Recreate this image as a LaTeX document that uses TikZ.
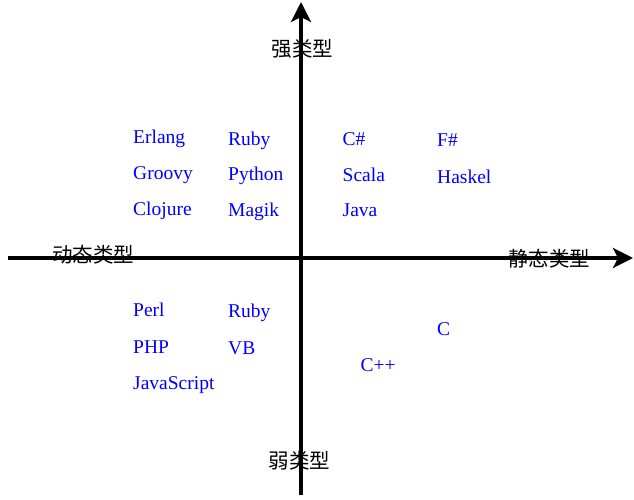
\documentclass[tikz,border=0pt]{standalone}
\usepackage{fontspec}
\setmainfont{Liberation Serif}
\newfontfamily\cjk{Noto Sans CJK SC}
\usetikzlibrary{arrows.meta}
\begin{document}
\begin{tikzpicture}[x=1pt,y=-1pt,
  lang/.style={anchor=base west,inner sep=0pt,text=blue,font=\fontsize{19.5}{23}\selectfont},
  axislabel/.style={inner sep=0pt,text=black,font=\cjk\fontsize{20.5}{24}\selectfont},
  axisline/.style={line width=3.5pt,-{Stealth[length=20pt,width=20pt,inset=5pt]}}]
\useasboundingbox (0,0) rectangle (634,500);
% axes
\coordinate (xl) at (8,258);
\coordinate (xr) at (633,258);
\coordinate (yb) at (301,495);
\coordinate (yt) at (301,2);
\draw[axisline] (xl) -- (xr);
\draw[axisline] (yb) -- (yt);
% axis labels
\node[axislabel] (strong) at (302.5,49) {强类型};
\node[axislabel] (weak) at (299.5,461) {弱类型};
\node[axislabel] (dyn) at (93,255) {动态类型};
\node[axislabel] (stat) at (549,259) {静态类型};
% languages
\node[lang] (erlang) at (133,143) {Erlang};
\node[lang] (groovy) at (133,179) {Groovy};
\node[lang] (clojure) at (133,215) {Clojure};
\node[lang] (ruby1) at (228,145) {Ruby};
\node[lang] (python) at (228,180.5) {Python};
\node[lang] (magik) at (228,216.5) {Magik};
\node[lang] (csharp) at (342.5,145) {C\#};
\node[lang] (scala) at (342.5,181.5) {Scala};
\node[lang] (java) at (342.5,216.5) {Java};
\node[lang] (fsharp) at (437,146.5) {F\#};
\node[lang] (haskel) at (437,183) {Haskel};
\node[lang] (perl) at (133,316) {Perl};
\node[lang] (php) at (133,353) {PHP};
\node[lang] (js) at (133,389) {JavaScript};
\node[lang] (ruby2) at (228,317) {Ruby};
\node[lang] (vb) at (228,354) {VB};
\node[lang] (cpp) at (360.5,371.5) {C++};
\node[lang] (c) at (437,335) {C};
\end{tikzpicture}
\end{document}
